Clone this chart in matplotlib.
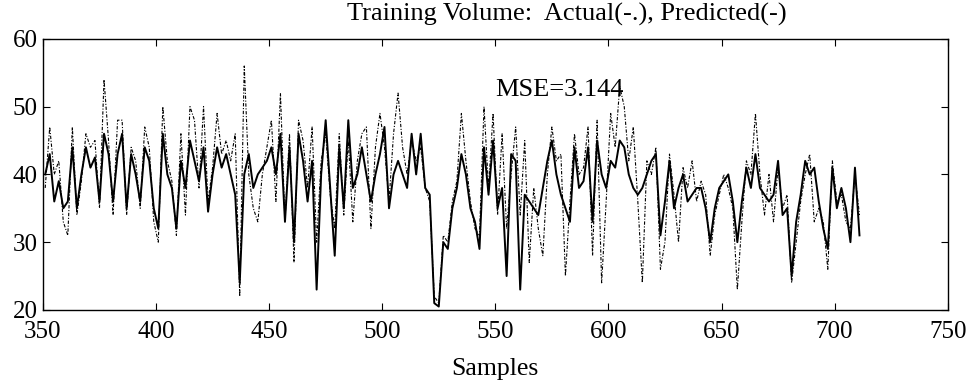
import numpy as np
import matplotlib
matplotlib.use("Agg")
import matplotlib.pyplot as plt

plt.rcParams['font.family'] = ['Liberation Serif', 'DejaVu Serif']

# samples 351..711, every second sample
samples = np.arange(351, 712, 2)

predicted = [
    40, 43, 36, 39, 35, 36, 44, 35, 40, 44,
    41, 42.5, 36, 46, 43, 36, 43, 46, 35, 43,
    40, 36, 44, 42, 35, 32, 46, 40, 38, 32,
    42, 38, 45, 42, 39, 44, 34.5, 40, 44, 41,
    43, 40, 37, 24, 40, 43, 38, 40, 41, 42,
    44, 40, 46, 33, 44, 30, 46, 42, 36, 42,
    23, 40, 48, 38, 28, 44, 35, 48, 38, 40,
    44, 40, 36, 40, 43, 47, 35, 40, 42, 40,
    38, 46, 40, 46, 38, 37, 21, 20.5, 30, 29,
    35, 38, 43, 40, 35, 33, 29, 44, 37, 45,
    35, 38, 25, 43, 42, 23, 37, 36, 35, 34,
    38, 42, 45, 40, 37, 35, 33, 44, 38, 39,
    44, 33, 45, 40, 38, 42, 41, 45, 44, 40,
    38, 37, 38, 40, 42, 43, 31, 36, 42, 35,
    38, 40, 36, 37, 38, 38, 35, 30, 35, 38,
    39, 40, 36, 30, 36, 41, 38, 43, 38, 37,
    36, 37, 42, 34, 35, 25, 33, 37, 42, 40,
    41, 36, 32, 29, 41, 35, 38, 35, 30, 41,
    31,
]

actual = [
    38, 47, 40, 42, 33, 31, 47, 34, 39, 46,
    44, 45, 35, 54, 45, 34, 48, 48, 34, 44,
    42, 35, 47, 44, 33, 30, 50, 42, 39, 31,
    46, 34, 50, 48, 38, 50, 36, 41, 49, 43,
    45, 42, 46, 22, 56, 40, 35, 33, 40, 44,
    48, 36, 52, 33, 46, 27, 48, 45, 38, 47,
    30, 42, 46, 37, 32, 46, 34, 45, 33, 42,
    46, 47, 32, 44, 49, 44, 36, 46, 52, 44,
    40, 45, 42, 44, 38, 36, 22, 21, 31, 30,
    36, 39, 49, 42, 36, 32, 31, 50, 38, 49,
    34, 46, 32, 40, 47, 34, 45, 27, 38, 32,
    28, 40, 47, 42, 43, 25, 36, 46, 40, 41,
    47, 28, 48, 24, 36, 49, 44, 53, 50, 42,
    47, 36, 24, 42, 40, 44, 26, 30, 43, 37,
    30, 41, 38, 42, 36, 39, 37, 28, 34, 37,
    40, 38, 35, 23, 33, 42, 40, 49, 40, 34,
    40, 33, 41, 35, 37, 24, 30, 36, 40, 43,
    33, 35, 33, 26, 42, 36, 37, 33, 32, 40,
    34,
]

xticks = [350, 400, 450, 500, 550, 600, 650, 700, 750]
yticks = [20, 30, 40, 50, 60]

fig = plt.figure(figsize=(9.76, 3.85), dpi=100)
ax = fig.add_axes([0.044, 0.195, 0.927, 0.704])

ax.plot(samples, actual, color='black', linewidth=0.8, linestyle=(0, (3, 1.5, 1, 1.5)))
ax.plot(samples, predicted, color='black', linewidth=1.4)

ax.set_xlim(350, 750)
ax.set_ylim(20, 60)
ax.set_xticks(xticks)
ax.set_yticks(yticks)
ax.tick_params(direction='in', length=5, top=True, right=True, labelsize=18)
ax.tick_params(axis='x', pad=8)
ax.tick_params(axis='y', pad=4)
for s in ax.spines.values():
    s.set_linewidth(1.0)

ax.set_xlabel('Samples', fontsize=18.5, labelpad=11)
fig.text(0.581, 0.962, 'Training Volume:  Actual(-.), Predicted(-)', fontsize=19,
         ha='center', va='center')
ax.text(549.8, 52.4, 'MSE=3.144', fontsize=19, ha='left', va='center')

fig.savefig('out.png', dpi=100)
